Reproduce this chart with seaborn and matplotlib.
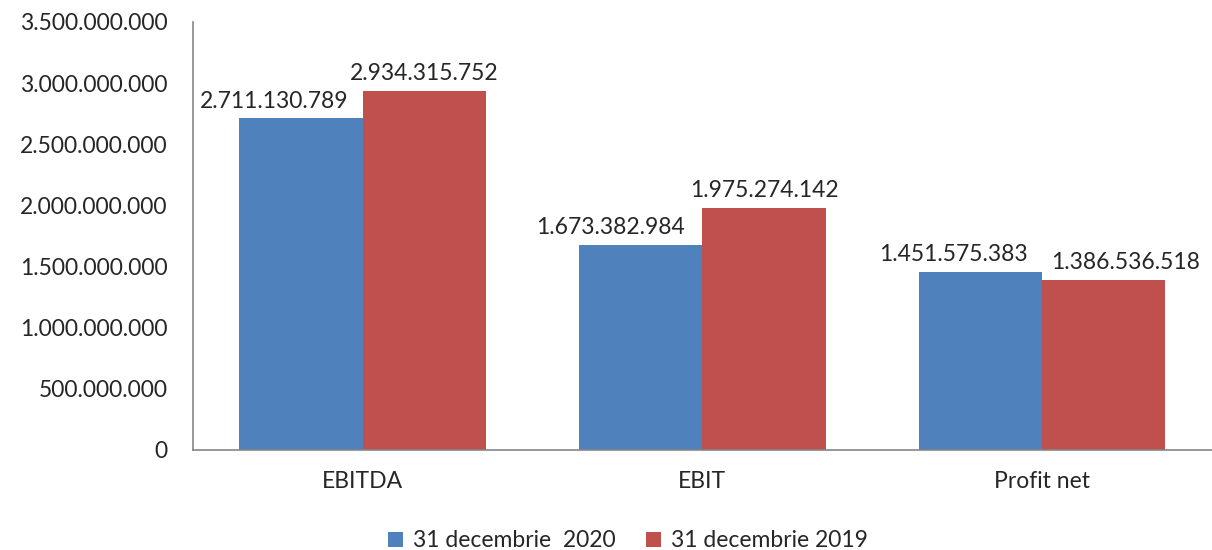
import pandas as pd
import numpy as np
import matplotlib
matplotlib.use('Agg')
import matplotlib.pyplot as plt
import seaborn as sns
from matplotlib.ticker import FuncFormatter

categories = ['EBITDA', 'EBIT', 'Profit net']
series = ['31 decembrie  2020', '31 decembrie 2019']
values_2020 = [2711130789, 1673382984, 1451575383]
values_2019 = [2934315752, 1975274142, 1386536518]

df = pd.DataFrame({
    'cat': categories * 2,
    'serie': [series[0]] * 3 + [series[1]] * 3,
    'val': values_2020 + values_2019,
})

sns.set_style('white')
plt.rcParams['font.family'] = ['Lato', 'DejaVu Sans']

def fmt(v):
    return f'{int(round(v)):,}'.replace(',', '.')

fig = plt.figure(figsize=(12.12, 5.5), dpi=100)
ax = fig.add_axes([0.159, 0.182, 0.841, 0.778])
sns.barplot(data=df, x='cat', y='val', hue='serie', hue_order=series,
            palette=['#4F81BD', '#C0504D'], width=0.725, gap=0,
            saturation=1, linewidth=0, ax=ax, legend=True)

ax.set_ylim(0, 3.5e9)
ax.set_xlim(-0.5, 2.5)
ax.set_yticks(np.arange(0, 3.5e9 + 1, 5e8))
ax.yaxis.set_major_formatter(FuncFormatter(lambda v, p: fmt(v)))
ax.tick_params(axis='both', length=0, labelsize=16.5)
ax.tick_params(axis='y', pad=18)
ax.tick_params(axis='x', pad=15)
ax.set_xlabel('')
ax.set_ylabel('')
for s in ['top', 'right']:
    ax.spines[s].set_visible(False)
for s in ['left', 'bottom']:
    ax.spines[s].set_color('#868686')
    ax.spines[s].set_linewidth(1.2)

# label offsets (px) to mimic Excel placement
shifts = [[-27, -30, -27], [0, 0, 22]]
for i, cont in enumerate(ax.containers):
    for j, bar in enumerate(cont):
        h = bar.get_height()
        ax.annotate(fmt(h), (bar.get_x() + bar.get_width() / 2, h),
                    xytext=(shifts[i][j] * 0.72, 5), textcoords='offset points',
                    ha='center', va='bottom', fontsize=16.5)

leg = ax.legend(loc='lower center', bbox_to_anchor=(0.427, -0.285), ncol=2,
                frameon=False, fontsize=16.5, handlelength=0.65, handleheight=0.65,
                handletextpad=0.45, columnspacing=1.3)

fig.savefig('out.png', dpi=100)
